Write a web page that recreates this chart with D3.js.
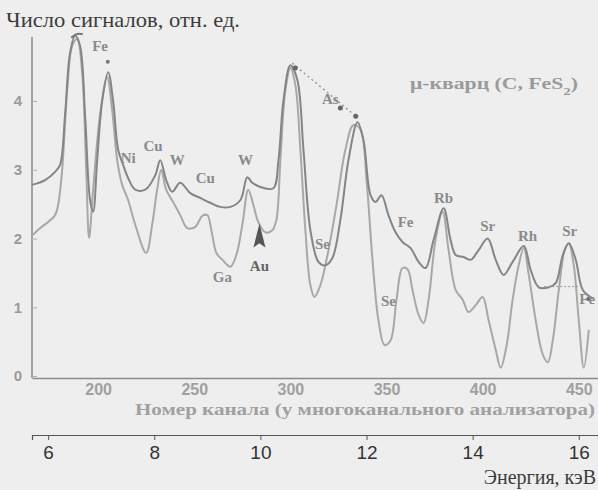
<!DOCTYPE html>
<html>
<head>
<meta charset="utf-8">
<script src="https://cdn.jsdelivr.net/npm/d3@7"></script>
<style>
  html, body { margin: 0; padding: 0; background: #eeeeee; }
  svg { display: block; }
</style>
</head>
<body>
<div id="chart"></div>
<script>
// Spectrum A (darker line) - channel / relative signal count
const channelsA = [165.6, 172.4, 177.6, 180.2, 182.8, 185.4, 188, 190.6, 193.2, 195.8, 197.4, 199.5, 202.1, 205.2,
  207.8, 210.4, 213, 215.6, 219.3, 224.5, 229.7, 232.3, 235.4, 238.5, 242.7, 247.9, 253.1, 258.3, 263.5, 268.8,
  274, 277.6, 280.2, 284.4, 291.1, 293.8, 296.4, 300, 303.6, 306.8, 310.4, 314.6, 318.2, 321.9, 326, 330.2,
  334.9, 338, 341.7, 344.3, 347.4, 351, 354.7, 358.3, 362.5, 366.7, 370.3, 374.5, 379.7, 383.3, 386, 390.1,
  393.75, 397.9, 402.6, 406.8, 410.9, 415.6, 421.4, 425, 429.2, 434.4, 438, 441.7, 444.8, 448.4, 452.1, 457.3];
const valuesA = [2.78, 2.85, 2.97, 3.07, 3.8, 4.7, 4.95, 4.8, 3.8, 2.56, 2.39, 3.14, 4.0, 4.42,
  4.0, 3.29, 3.07, 2.88, 2.71, 2.71, 2.92, 3.14, 2.85, 2.68, 2.81, 2.66, 2.59, 2.52, 2.46, 2.46,
  2.56, 2.89, 2.81, 2.75, 2.73, 3.14, 4.01, 4.52, 4.31, 3.29, 2.12, 1.66, 1.61, 1.72, 2.27, 3.14,
  3.69, 3.43, 2.63, 2.53, 2.63, 2.34, 2.09, 1.95, 1.86, 1.66, 1.57, 1.98, 2.44, 1.98, 1.76, 1.73,
  1.69, 1.83, 2.0, 1.69, 1.47, 1.66, 1.89, 1.54, 1.29, 1.29, 1.35, 1.76, 1.93, 1.69, 1.25, 1.13];

// Spectrum B (lighter line)
const channelsB = [165.6, 169.8, 174, 177.6, 179.2, 181.3, 183.9, 186.5, 189.1, 191.7, 193.8, 195.3, 197.4, 201,
  204.7, 207.3, 209.9, 212.5, 215.6, 219.3, 225, 228.1, 230.7, 232.8, 235.4, 239, 242.7, 246.4, 250.5, 254.2,
  256.8, 258.9, 261.5, 264.6, 268.8, 271.9, 275, 278.1, 280.7, 283.3, 287, 290.6, 292.7, 294.8, 297.4, 300,
  302.6, 305.2, 307.8, 310.4, 312.5, 315.6, 319.8, 324, 328.6, 332.8, 336.5, 339.6, 342.7, 345.8, 349, 352.1,
  355.2, 358.3, 361, 363.5, 366.7, 369.3, 371.9, 375.5, 379.2, 382.3, 386, 389.6, 392.7, 396.4, 400, 403.1,
  406.8, 409.4, 412.5, 415.6, 418.75, 421.4, 424, 427.6, 431.3, 433.9, 436.5, 439.6, 442.7, 444.8, 447.4, 450,
  452.6, 455.2];
const valuesB = [2.04, 2.15, 2.24, 2.34, 2.49, 3.0, 4.15, 4.8, 4.9, 4.4, 3.0, 2.01, 2.71, 3.8,
  4.35, 3.87, 3.14, 2.78, 2.56, 2.2, 1.79, 2.2, 2.71, 3.0, 2.71, 2.53, 2.34, 2.15, 2.17, 2.33,
  2.34, 2.12, 1.79, 1.69, 1.59, 1.76, 2.2, 2.71, 2.49, 2.24, 2.09, 2.12, 2.27, 3.14, 4.16, 4.48,
  4.23, 3.29, 2.12, 1.32, 1.15, 1.32, 1.83, 2.49, 3.29, 3.65, 3.58, 2.85, 1.69, 0.81, 0.45, 0.52,
  1.11, 1.57, 1.55, 1.25, 0.89, 0.77, 1.11, 1.98, 2.39, 1.83, 1.25, 1.11, 0.93, 1.03, 1.15, 0.81,
  0.38, 0.12, 0.45, 1.11, 1.61, 1.86, 1.47, 0.81, 0.31, 0.2, 0.52, 1.25, 1.83, 1.93, 1.61, 0.81,
  0.12, 0.67];

const yTicks = [0, 1, 2, 3, 4];
const channelTicks = [200, 250, 300, 350, 400, 450];
const energyTicks = [6, 8, 10, 12, 14, 16];

// Element labels placed in channel / value units
const peakNames = ['Fe', 'Ni', 'Cu', 'W', 'Cu', 'W', 'Ga', 'Au', 'As', 'Se', 'Se', 'Fe', 'Rb', 'Sr', 'Rh', 'Sr', 'Fe'];
const peakChannels = [201, 215.6, 228.6, 241.1, 255.7, 276.6, 264.6, 283.9, 320.8, 316.7, 351, 359.9, 379.7, 402.6, 423.4, 445.3, 458.5];
const peakValues = [4.81, 3.17, 3.35, 3.14, 2.88, 3.14, 1.44, 1.6, 4.04, 1.93, 1.1, 2.24, 2.6, 2.18, 2.04, 2.12, 1.13];

const width = 598;
const height = 490;

const svg = d3.select('#chart').append('svg')
  .attr('width', width)
  .attr('height', height)
  .style('font-family', '"Liberation Serif", "DejaVu Serif", serif');

svg.append('rect').attr('width', width).attr('height', height).attr('fill', '#eeeeee');

// Scales
const x = d3.scaleLinear().domain([165.6, 460]).range([32, 598]);
const y = d3.scaleLinear().domain([0, 5]).range([376, 32.25]);

// energy calibration: 6 keV at channel 174, 16 keV at channel 450
const energyAt = (ch) => 6 + (ch - 174) * 10 / 276;
const xE = d3.scaleLinear().domain([energyAt(165.6), energyAt(460)]).range([32, 598]);

// Axes
svg.append('line').attr('x1', 32).attr('x2', 32).attr('y1', 37).attr('y2', y(0) + 2)
  .attr('stroke', '#8a8a8a').attr('stroke-width', 1.5);

const gx = svg.append('g').attr('transform', `translate(0,${y(0) + 2})`)
  .call(d3.axisBottom(x).tickValues(channelTicks).tickSize(0).tickPadding(6).tickFormat(d3.format('d')));
gx.select('.domain').attr('stroke', '#8a8a8a').attr('stroke-width', 1.5);
gx.selectAll('text').attr('fill', '#a0a0a0').attr('font-size', 16).attr('font-weight', 'bold');

const gy = svg.append('g').attr('transform', 'translate(32,0)')
  .call(d3.axisLeft(y).tickValues(yTicks).tickSize(-5).tickPadding(10).tickFormat(d3.format('d')));
gy.select('.domain').remove();
gy.selectAll('line').attr('stroke', '#b0b0b0');
gy.selectAll('text').attr('fill', '#9a9a9a').attr('font-size', 15).attr('font-weight', 'bold');

const ge = svg.append('g').attr('transform', 'translate(0,435)')
  .call(d3.axisBottom(xE).tickValues(energyTicks).tickSize(5).tickPadding(6).tickFormat(d3.format('d')));
ge.select('.domain').attr('stroke', '#555').attr('stroke-width', 1.2);
ge.selectAll('line').attr('stroke', '#555');
ge.selectAll('text').attr('fill', '#333').attr('font-size', 19);

// Lines
const line = d3.line()
  .x((d) => x(d[0]))
  .y((d) => y(d[1]))
  .curve(d3.curveCatmullRom.alpha(0.5));

svg.append('path')
  .datum(channelsB.map((c, i) => [c, valuesB[i]]))
  .attr('d', line)
  .attr('fill', 'none')
  .attr('stroke', '#a8a8a8')
  .attr('stroke-width', 2);

svg.append('path')
  .datum(channelsA.map((c, i) => [c, valuesA[i]]))
  .attr('d', line)
  .attr('fill', 'none')
  .attr('stroke', '#858585')
  .attr('stroke-width', 2);

// As dotted arrow between the two peaks
svg.append('line')
  .attr('x1', x(301)).attr('y1', y(4.55))
  .attr('x2', x(334)).attr('y2', y(3.78))
  .attr('stroke', '#999').attr('stroke-dasharray', '2,3').attr('stroke-width', 1.5);
[[302.5, 4.48], [326, 3.9], [334, 3.78]].forEach((p) => {
  svg.append('circle').attr('cx', x(p[0])).attr('cy', y(p[1])).attr('r', 2.5).attr('fill', '#666');
});
svg.append('circle').attr('cx', x(205)).attr('cy', y(4.57)).attr('r', 2).attr('fill', '#777');
svg.append('path')
  .attr('d', `M${x(186)},${y(4.92)} Q${x(189)},${y(5.0)} ${x(192)},${y(4.97)}`)
  .attr('stroke', '#777').attr('stroke-width', 2).attr('fill', 'none');

// Fe marker at the right end
svg.append('line')
  .attr('x1', x(432)).attr('y1', y(1.3)).attr('x2', x(450)).attr('y2', y(1.3))
  .attr('stroke', '#999').attr('stroke-dasharray', '2,2');
svg.append('circle').attr('cx', x(455)).attr('cy', y(1.12)).attr('r', 2).attr('fill', '#666');

// Au arrow
svg.append('path')
  .attr('d', `M${x(283.9)},${y(2.22)} L${x(283.9) - 6},${y(1.87)} L${x(283.9)},${y(1.93)} L${x(283.9) + 6},${y(1.87)} Z`)
  .attr('fill', '#555');

// Element labels
svg.append('g').selectAll('text')
  .data(peakNames)
  .join('text')
  .attr('x', (d, i) => x(peakChannels[i]))
  .attr('y', (d, i) => y(peakValues[i]))
  .attr('dy', '0.35em')
  .attr('text-anchor', (d, i) => (i === peakNames.length - 1 ? 'end' : 'middle'))
  .attr('font-size', 15)
  .attr('font-weight', 'bold')
  .attr('fill', (d) => (d === 'Au' ? '#666' : '#8a8a8a'))
  .text((d) => d);

// Sample caption
svg.append('text')
  .attr('x', 410).attr('y', 83).attr('dy', '0.35em')
  .attr('font-size', 16).attr('font-weight', 'bold').attr('fill', '#9a9a9a')
  .attr('textLength', 168).attr('lengthAdjust', 'spacingAndGlyphs')
  .html('μ-кварц (C, FeS<tspan baseline-shift="sub" font-size="11">2</tspan>)');

// Titles
svg.append('text')
  .attr('x', 6).attr('y', 27)
  .attr('font-size', 21).attr('fill', '#3c3c3c')
  .attr('textLength', 234).attr('lengthAdjust', 'spacingAndGlyphs')
  .text('Число сигналов, отн. ед.');

svg.append('text')
  .attr('x', 135).attr('y', 415)
  .attr('font-size', 17).attr('font-weight', 'bold').attr('fill', '#a0a0a0')
  .attr('textLength', 460).attr('lengthAdjust', 'spacingAndGlyphs')
  .text('Номер канала (у многоканального анализатора)');

svg.append('text')
  .attr('x', 596).attr('y', 484)
  .attr('text-anchor', 'end')
  .attr('font-size', 20).attr('fill', '#3c3c3c')
  .text('Энергия, кэВ');
</script>
</body>
</html>
